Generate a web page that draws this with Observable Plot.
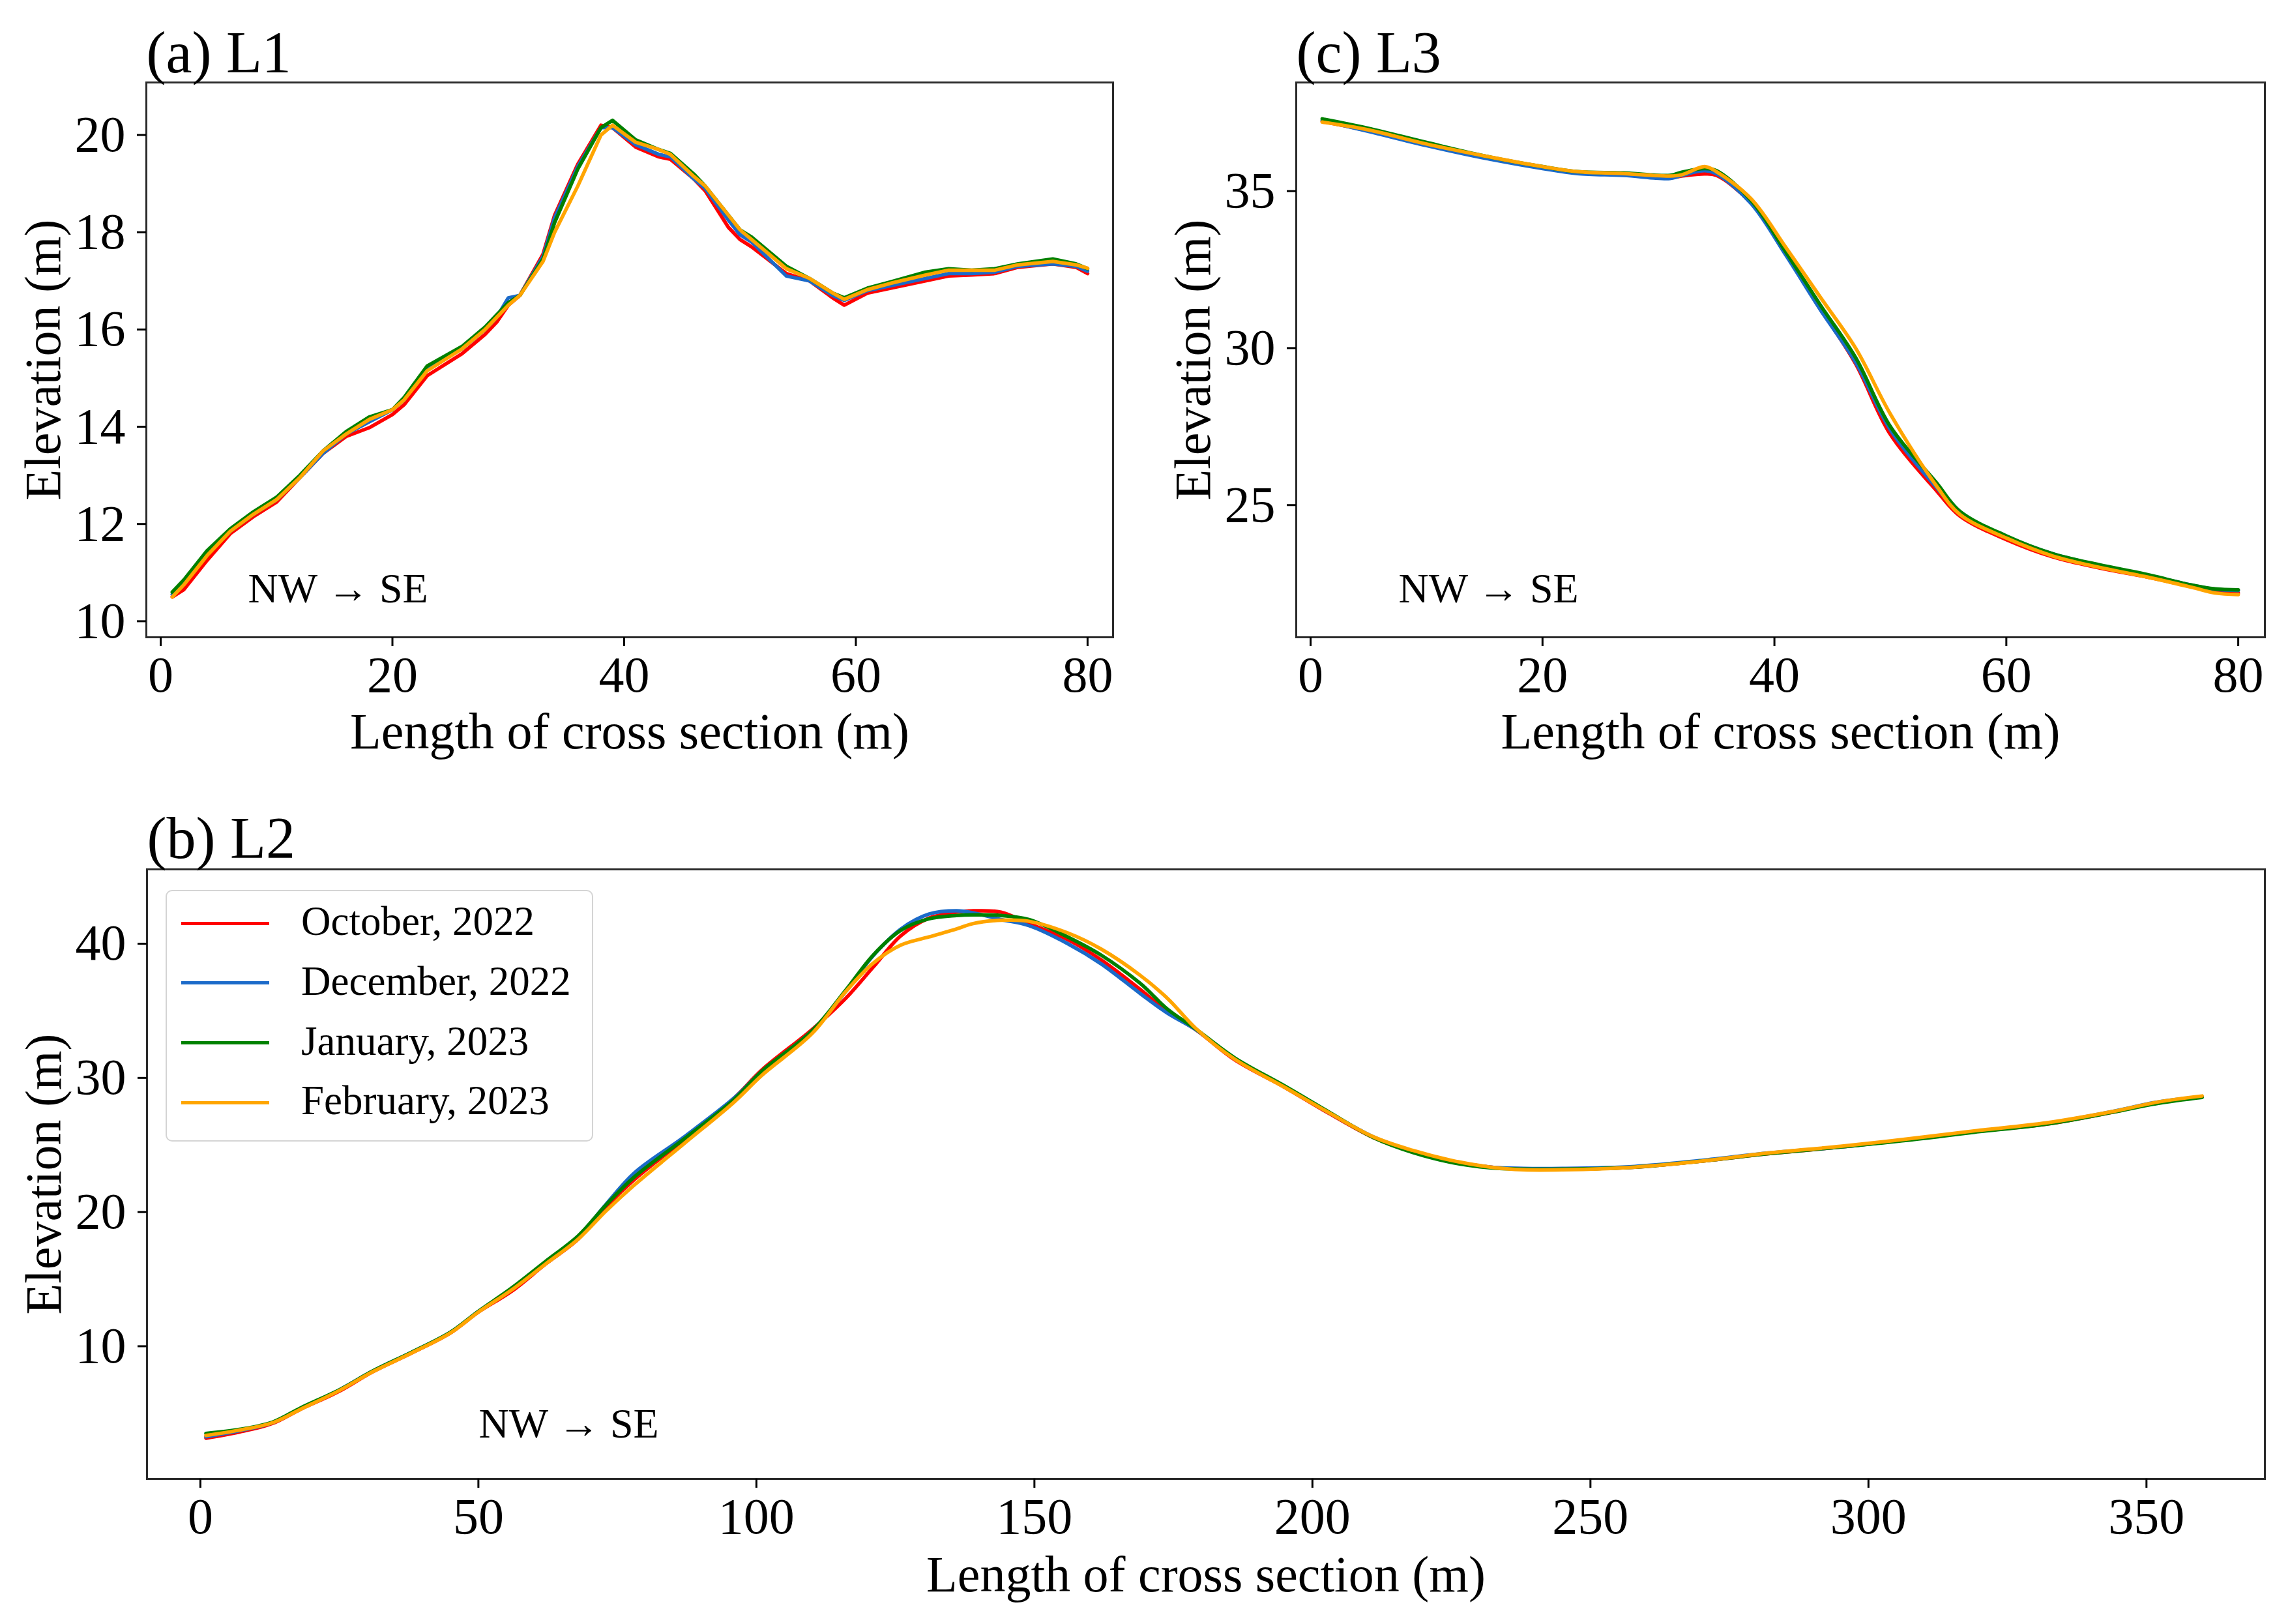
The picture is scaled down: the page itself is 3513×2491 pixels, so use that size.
<!DOCTYPE html>
<html>
<head>
<meta charset="utf-8">
<script src="https://cdn.jsdelivr.net/npm/d3@7"></script>
<script src="https://cdn.jsdelivr.net/npm/@observablehq/plot@0.6"></script>
<style>
  body { margin: 0; background: white; }
  #page { position: relative; width: 3513px; height: 2491px; background: white; font-family: "Liberation Serif", serif; }
  .panel { position: absolute; }
  #legend { position: absolute; box-sizing: border-box; background: rgba(255,255,255,0.85);
            border: 2px solid #d4d4d4; border-radius: 10px; }
  .key { position: absolute; height: 5px; }
  .lab { position: absolute; font-size: 63px; line-height: 1; color: black; white-space: nowrap; }
</style>
</head>
<body>
<div id="page">
  <div class="panel" id="pa" style="left:0;top:0;width:1757px;height:1160px"></div>
  <div class="panel" id="pc" style="left:1757px;top:0;width:1756px;height:1160px"></div>
  <div class="panel" id="pb" style="left:0;top:1200px;width:3513px;height:1291px"></div>
  <div id="legend"></div>
</div>
<script>
// survey months and their line colours
const months = ["October, 2022", "December, 2022", "January, 2023", "February, 2023"];
const colors = ["#ff0000", "#1b6ac9", "#008000", "#ffa500"];

// L1 profile (m along section) and elevations per survey
const l1X = [1,2,4,6,8,10,12,14,16,18,20,21,23,26,28,29,30,31,33,34,36,38,39,41,43,44,46,47,49,50,51,54,56,58,59,61,63,66,68,70,72,74,77,79,80];
const l1Oct = [10.5,10.65,11.25,11.8,12.15,12.45,12.95,13.45,13.8,13.98,14.25,14.45,15.05,15.5,15.9,16.15,16.5,16.7,17.55,18.35,19.4,20.2,20.15,19.75,19.55,19.5,19.1,18.85,18.1,17.85,17.7,17.15,17.0,16.65,16.5,16.75,16.85,17.0,17.1,17.12,17.15,17.28,17.35,17.28,17.15];
const l1Dec = [10.55,10.8,11.4,11.85,12.2,12.5,12.95,13.45,13.85,14.1,14.35,14.55,15.2,15.6,16.0,16.25,16.65,16.7,17.5,18.3,19.35,20.15,20.15,19.8,19.6,19.55,19.1,18.9,18.25,17.95,17.8,17.1,17.0,16.7,16.6,16.8,16.9,17.05,17.15,17.15,17.18,17.3,17.35,17.3,17.2];
const l1Jan = [10.6,10.85,11.45,11.9,12.25,12.55,13.0,13.5,13.9,14.2,14.35,14.6,15.25,15.65,16.05,16.3,16.55,16.7,17.45,18.2,19.3,20.15,20.3,19.9,19.7,19.62,19.2,18.95,18.35,18.05,17.9,17.3,17.05,16.75,16.65,16.85,16.98,17.18,17.25,17.22,17.25,17.35,17.45,17.35,17.25];
const l1Feb = [10.5,10.75,11.35,11.85,12.2,12.5,12.95,13.5,13.85,14.15,14.35,14.55,15.15,15.6,16.0,16.25,16.5,16.7,17.4,18.0,18.95,20.0,20.2,19.85,19.7,19.6,19.15,18.95,18.35,18.05,17.85,17.25,17.05,16.75,16.62,16.82,16.95,17.12,17.22,17.22,17.22,17.33,17.4,17.33,17.26];

// L2 profile
const l2X = [1,7,13,18,25,31,38,45,50,56,62,68,73,78,87,96,101,110,116,121,126,131,136,139,144,149,156,162,169,174,179,186,195,203,211,218,225,232,238,245,258,270,282,295,307,319,332,344,352,360];
const l2Oct = [3.15,3.6,4.25,5.3,6.65,8.1,9.5,11.0,12.55,14.1,16.1,18.0,20.4,22.4,25.4,28.5,30.6,33.6,35.9,38.25,40.6,41.9,42.35,42.45,42.35,41.5,40.3,38.8,36.6,34.9,33.6,31.35,29.3,27.35,25.55,24.5,23.8,23.35,23.2,23.2,23.35,23.8,24.35,24.85,25.4,26.0,26.55,27.45,28.15,28.6];
const l2Dec = [3.25,3.7,4.3,5.35,6.75,8.15,9.55,11.05,12.6,14.3,16.25,18.2,20.6,22.9,25.6,28.5,30.5,33.5,36.4,39.1,41.1,42.2,42.45,42.3,41.8,41.35,40.0,38.5,36.3,34.8,33.6,31.45,29.35,27.4,25.6,24.55,23.8,23.35,23.25,23.25,23.4,23.85,24.4,24.85,25.4,26.0,26.6,27.5,28.2,28.6];
const l2Jan = [3.5,3.8,4.35,5.4,6.75,8.15,9.55,11.05,12.6,14.35,16.3,18.25,20.55,22.6,25.45,28.4,30.5,33.5,36.5,39.15,41.0,41.85,42.1,42.15,42.1,41.8,40.5,39.15,37.05,35.1,33.65,31.5,29.4,27.45,25.55,24.45,23.7,23.3,23.2,23.2,23.35,23.8,24.35,24.85,25.35,25.95,26.55,27.45,28.1,28.55];
const l2Feb = [3.35,3.75,4.3,5.3,6.7,8.1,9.5,11.0,12.55,14.2,16.1,18.0,20.1,22.0,25.1,28.2,30.2,33.3,36.4,38.55,39.9,40.5,41.1,41.5,41.75,41.67,40.8,39.6,37.65,35.9,33.7,31.4,29.3,27.4,25.6,24.6,23.85,23.35,23.15,23.15,23.35,23.8,24.4,24.9,25.45,26.05,26.65,27.5,28.2,28.65];

// L3 profile
const l3X = [1,5,10,15,20,23,27,31,32,34,35,38,41,44,47,50,54,56,60,64,68,72,76,78,80];
const l3Oct = [37.22,36.92,36.47,36.07,35.74,35.58,35.52,35.42,35.48,35.55,35.5,34.62,33.0,31.25,29.5,27.25,25.45,24.65,23.9,23.35,23.0,22.72,22.4,22.25,22.2];
const l3Dec = [37.25,36.9,36.45,36.05,35.72,35.56,35.5,35.4,35.5,35.65,35.55,34.6,32.95,31.2,29.55,27.4,25.55,24.75,24.0,23.45,23.08,22.78,22.45,22.32,22.28];
const l3Jan = [37.3,37.0,36.55,36.12,35.78,35.62,35.58,35.5,35.6,35.72,35.65,34.7,33.05,31.35,29.7,27.5,25.7,24.8,24.02,23.45,23.1,22.8,22.45,22.33,22.3];
const l3Feb = [37.2,36.95,36.5,36.12,35.78,35.62,35.56,35.48,35.52,35.78,35.62,34.75,33.2,31.6,30.0,27.9,25.6,24.7,23.95,23.38,23.02,22.72,22.38,22.2,22.15];

// long table: one row per point, series in drawing order
function toRows(xs, series) {
  const rows = [];
  series.forEach((vals, i) => {
    vals.forEach((v, j) => rows.push({x: xs[j], y: v, month: months[i]}));
  });
  return rows;
}

const font = "Liberation Serif";

function panel(opts) {
  return Plot.plot({
    width: opts.width,
    height: opts.height,
    marginLeft: opts.ml,
    marginRight: opts.mr,
    marginTop: opts.mt,
    marginBottom: opts.mb,
    style: {fontFamily: font, background: "transparent", color: "black", overflow: "visible"},
    x: {domain: opts.xDomain},
    y: {domain: opts.yDomain},
    color: {domain: months, range: colors},
    marks: [
      Plot.line(opts.rows, {x: "x", y: "y", z: "month", stroke: "month", strokeWidth: 5.5, curve: opts.curve}),
      Plot.frame({stroke: "#2b2b2b", strokeWidth: 3}),
      Plot.axisX({ticks: opts.xTicks, tickSize: 14, tickPadding: 14, strokeWidth: 3, fontSize: 78,
        label: "Length of cross section (m)", labelAnchor: "center", labelOffset: opts.xLabelOffset, labelArrow: "none"}),
      Plot.axisY({ticks: opts.yTicks, tickSize: 14, tickPadding: 18, strokeWidth: 3, fontSize: 78,
        label: "Elevation (m)", labelAnchor: "center", labelOffset: 188, labelArrow: "none"}),
      Plot.text([opts.title], {text: d => d, frameAnchor: "top-left", textAnchor: "start", lineAnchor: "bottom",
        dy: opts.titleDy, fontSize: 90}),
      Plot.text(["NW → SE"], {text: d => d, frameAnchor: "bottom-left", textAnchor: "start", lineAnchor: "bottom",
        dx: opts.noteDx, dy: opts.noteDy, fontSize: 64})
    ]
  });
}

document.getElementById("pa").appendChild(panel({
  width: 1757, height: 1160, ml: 224, mr: 50, mt: 126, mb: 183,
  xDomain: [-1.24, 82.2], yDomain: [9.67, 21.08],
  xTicks: [0, 20, 40, 60, 80], yTicks: [10, 12, 14, 16, 18, 20],
  rows: toRows(l1X, [l1Oct, l1Dec, l1Jan, l1Feb]), curve: "linear",
  xLabelOffset: 170, title: "(a) L1", titleDy: -16, noteDx: 156, noteDy: -54
}));

document.getElementById("pc").appendChild(panel({
  width: 1756, height: 1160, ml: 231, mr: 39, mt: 126, mb: 183,
  xDomain: [-1.24, 82.3], yDomain: [20.79, 38.46],
  xTicks: [0, 20, 40, 60, 80], yTicks: [25, 30, 35],
  rows: toRows(l3X, [l3Oct, l3Dec, l3Jan, l3Feb]), curve: "catmull-rom",
  xLabelOffset: 170, title: "(c) L3", titleDy: -16, noteDx: 157, noteDy: -54
}));

document.getElementById("pb").appendChild(panel({
  width: 3513, height: 1291, ml: 225, mr: 39, mt: 133, mb: 223,
  xDomain: [-9.6, 371.3], yDomain: [0.11, 45.54],
  xTicks: [0, 50, 100, 150, 200, 250, 300, 350], yTicks: [10, 20, 30, 40],
  rows: toRows(l2X, [l2Oct, l2Dec, l2Jan, l2Feb]), curve: "catmull-rom",
  xLabelOffset: 172, title: "(b) L2", titleDy: -18, noteDx: 509, noteDy: -64
}));

// legend for panel (b), drawn over the upper-left corner of the frame
const legend = d3.select("#legend")
  .style("left", "254px").style("top", "1365px")
  .style("width", "656px").style("height", "386px");
months.forEach((m, i) => {
  const cy = 49 + i * 91.8;
  legend.append("div").attr("class", "key")
    .style("left", "22px").style("top", (cy - 2.5) + "px")
    .style("width", "135px").style("background", colors[i]);
  legend.append("div").attr("class", "lab")
    .style("left", "206px").style("top", (cy - 34) + "px")
    .text(m);
});
</script>
</body>
</html>
